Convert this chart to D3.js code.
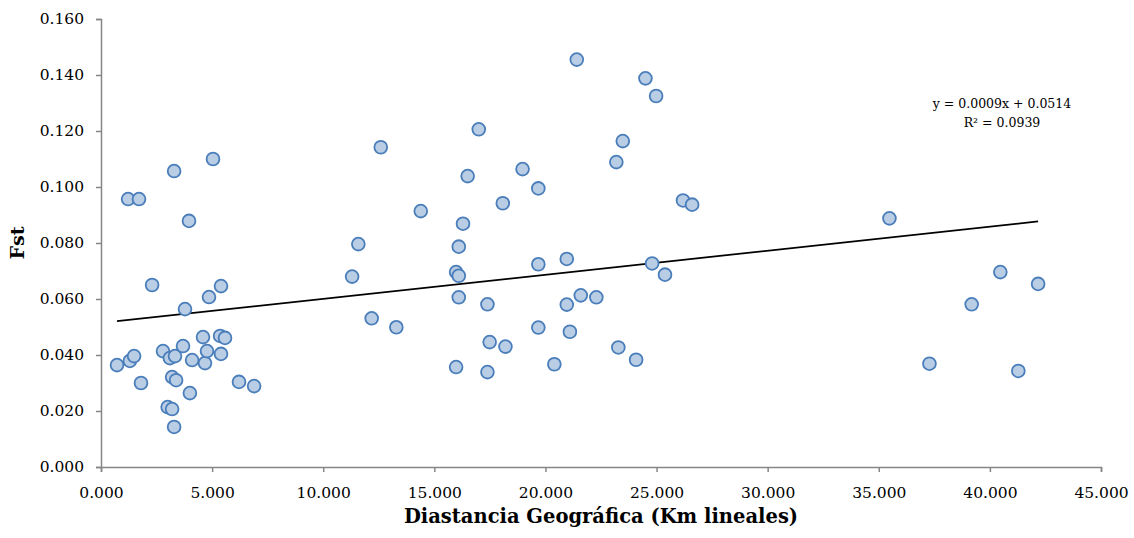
<!DOCTYPE html>
<html>
<head>
<meta charset="utf-8">
<script src="https://cdn.jsdelivr.net/npm/d3@7"></script>
<style>
  body { margin: 0; background: #fff; }
  svg { font-family: "DejaVu Serif", serif; }
</style>
</head>
<body>
<svg id="chart" width="1134" height="538"></svg>
<script>
// distance in thousands of km, Fst
let distX = [
  0.72, 1.22, 1.30, 1.49, 1.71, 1.80, 2.30, 2.79, 3.00, 3.10, 3.20, 3.20, 3.29, 3.29, 3.33, 3.38,
  3.69, 3.78, 3.96, 4.00, 4.10, 4.59, 4.68, 4.77, 4.86, 5.04, 5.40, 5.36, 5.40, 5.58, 6.21, 6.89,
  11.30, 11.58, 12.18, 12.59, 13.29, 14.39, 15.98, 16.10, 16.10, 16.10, 15.98, 16.29, 16.50, 17.00,
  17.39, 17.39, 17.49, 18.08, 18.20, 18.97, 19.68, 19.68, 19.68, 20.40, 20.96, 20.96, 21.10, 21.41,
  21.59, 22.29, 23.19, 23.28, 23.48, 24.08, 24.50, 24.80, 24.98, 25.38, 26.19, 26.60,
  35.48, 37.28, 39.18, 40.47, 41.28, 42.17
];
let fstY = [
  0.0364, 0.0957, 0.0379, 0.0396, 0.0957, 0.0300, 0.0650, 0.0414, 0.0214, 0.0389, 0.0207, 0.0321, 0.1057, 0.0143, 0.0396, 0.0310,
  0.0432, 0.0564, 0.0879, 0.0264, 0.0382, 0.0464, 0.0371, 0.0414, 0.0607, 0.1100, 0.0646, 0.0468, 0.0404, 0.0461, 0.0304, 0.0289,
  0.0680, 0.0796, 0.0531, 0.1142, 0.0499, 0.0914, 0.0696, 0.0683, 0.0787, 0.0606, 0.0357, 0.0869, 0.1039, 0.1206,
  0.0581, 0.0339, 0.0446, 0.0942, 0.0430, 0.1064, 0.0995, 0.0724, 0.0498, 0.0367, 0.0743, 0.0580, 0.0483, 0.1455,
  0.0613, 0.0606, 0.1089, 0.0427, 0.1164, 0.0383, 0.1388, 0.0727, 0.1325, 0.0687, 0.0952, 0.0937,
  0.0888, 0.0369, 0.0581, 0.0696, 0.0343, 0.0654
];
let xTicks = [0, 5, 10, 15, 20, 25, 30, 35, 40, 45];
let yTicks = [0, 0.02, 0.04, 0.06, 0.08, 0.10, 0.12, 0.14, 0.16];
let equationText = "y = 0.0009x + 0.0514";
let r2Text = "R² = 0.0939";

let svg = d3.select("#chart");
let plotLeft = 101, plotTop = 19, plotRight = 1101, plotBottom = 467;

let xScale = d3.scaleLinear().domain([0, 45]).range([plotLeft, plotRight]);
let yScale = d3.scaleLinear().domain([0, 0.16]).range([plotBottom, plotTop]);
let axisColor = "#868686";

// axes
let xAxis = d3.axisBottom(xScale).tickValues(xTicks).tickSizeOuter(0).tickSize(5)
  .tickFormat(d3.format(".3f"));
let gx = svg.append("g").attr("transform", "translate(0," + plotBottom + ")").call(xAxis);
gx.selectAll("text").attr("dy", "1.5em").style("font-size", "15.5px").attr("fill", "#000");

let yAxis = d3.axisLeft(yScale).tickValues(yTicks).tickSizeOuter(0).tickSize(5)
  .tickFormat(d3.format(".3f"));
let gy = svg.append("g").attr("transform", "translate(" + plotLeft + ",0)").call(yAxis);
gy.selectAll("text").attr("x", -17).style("font-size", "15.5px").attr("fill", "#000");

svg.selectAll(".domain, .tick line").attr("stroke", axisColor).attr("stroke-width", 1.5);
svg.selectAll(".tick text").style("font-family", "DejaVu Serif, serif");

// trendline, least squares fit on the points
let mx = d3.mean(distX), my = d3.mean(fstY);
let sxy = d3.sum(distX, (x, i) => (x - mx) * (fstY[i] - my));
let sxx = d3.sum(distX, x => (x - mx) * (x - mx));
let slope = sxy / sxx;
let intercept = my - slope * mx;
let xExt = d3.extent(distX);
svg.append("line")
  .attr("x1", xScale(xExt[0])).attr("y1", yScale(slope * xExt[0] + intercept))
  .attr("x2", xScale(xExt[1])).attr("y2", yScale(slope * xExt[1] + intercept))
  .attr("stroke", "#000").attr("stroke-width", 1.75);

// points
let points = distX.map((x, i) => ({x: x, y: fstY[i]}));
svg.append("g").selectAll("circle").data(points).enter().append("circle")
  .attr("cx", d => xScale(d.x))
  .attr("cy", d => yScale(d.y))
  .attr("r", 6.4)
  .attr("fill", "#b9cde5")
  .attr("stroke", "#4a7ebb")
  .attr("stroke-width", 1.8);

// equation
svg.append("text").attr("x", 1002).attr("y", 108).attr("text-anchor", "middle")
  .style("font-size", "12.5px").text(equationText);
svg.append("text").attr("x", 1002).attr("y", 127).attr("text-anchor", "middle")
  .style("font-size", "12.5px").text(r2Text);

// axis titles
svg.append("text").attr("x", 601).attr("y", 523).attr("text-anchor", "middle")
  .style("font-size", "19.5px").style("font-weight", "bold")
  .text("Diastancia Geográfica (Km lineales)");
svg.append("text").attr("transform", "translate(24,243) rotate(-90)").attr("text-anchor", "middle")
  .style("font-size", "19px").style("font-weight", "bold")
  .text("Fst");
</script>
</body>
</html>
